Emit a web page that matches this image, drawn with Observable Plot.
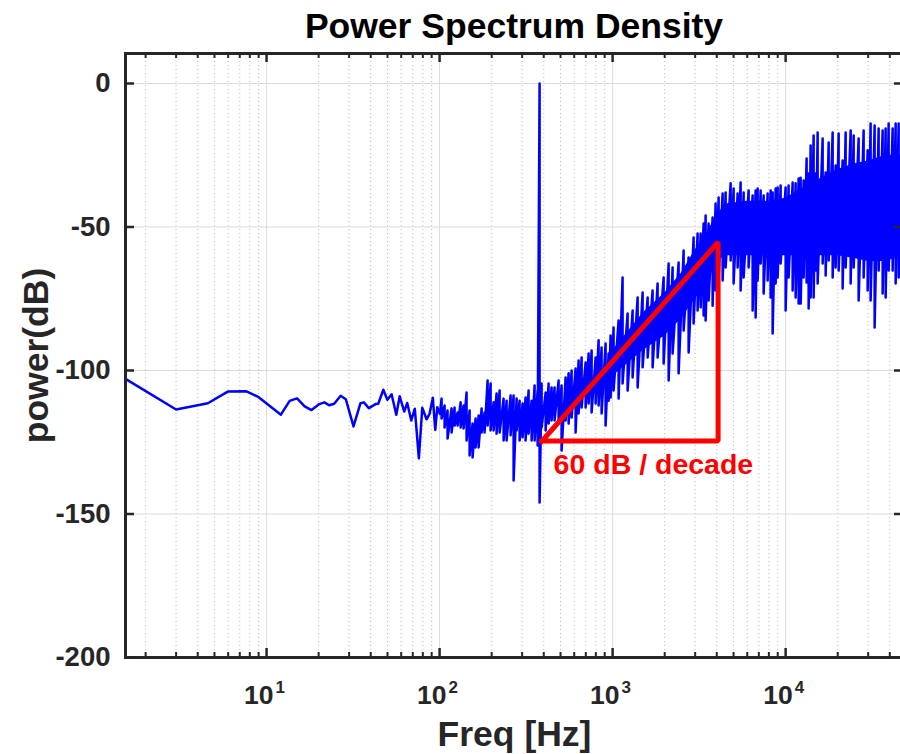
<!DOCTYPE html>
<html><head><meta charset="utf-8">
<script src="https://cdn.jsdelivr.net/npm/d3@7"></script>
<script src="https://cdn.jsdelivr.net/npm/@observablehq/plot@0.6"></script>
<style>
html,body{margin:0;padding:0;background:#fff;overflow:hidden;width:900px;height:754px;}
#wrap{position:relative;width:900px;height:754px;overflow:hidden;}
#title{position:absolute;left:514px;top:6px;transform:translateX(-50%);font:bold 35.5px "Liberation Sans",Arial,sans-serif;color:#000;white-space:nowrap;line-height:40px;}
#chart{position:absolute;left:0;top:45px;width:906px;}
#chart svg{max-width:none !important;}
</style></head><body>
<div id="wrap"><div id="title">Power Spectrum Density</div><div id="chart"></div></div>
<script>
// ---- data ----
const lowFreq = [1.53, 3.0, 4.58, 6.0, 7.6, 9.0, 12.1, 13.6, 15.0, 16.6, 18.2, 20.2, 21.6, 23.0, 24.6, 26.8, 28.7, 31.8, 34.9, 36.5, 39.0, 42.7, 44.2, 47.3, 49.9, 52.8, 56.2, 58.8, 62.5, 65.0, 68.6, 71.9, 75.9, 79.4, 84.1, 87.5, 91.4, 94.4, 97.0, 100.4];
const lowDb = [-102.9, -113.6, -111.4, -107.3, -107.2, -109.3, -115.4, -110.6, -109.7, -112.5, -113.8, -111.7, -111.1, -112.1, -111.6, -108.8, -110.0, -119.5, -111.4, -111.1, -113.1, -111.7, -111.6, -106.7, -110.2, -108.3, -115.4, -109.0, -114.3, -111.3, -117.4, -113.3, -130.6, -113.0, -117.0, -115.1, -109.5, -120.7, -112.8, -115.1];

const denseFreq = [102.7, 106.9, 111.2, 117.3, 122.1, 127.1, 132.3, 137.6, 143.2, 149.1, 155.1, 161.5, 168.1, 175.0, 182.0, 189.5, 197.2, 205.2, 213.5, 222.3, 234.4, 244.0, 257.3, 267.8, 278.7, 290.0, 301.8, 314.1, 326.9, 340.3, 354.1, 368.6, 378.4, 388.7, 410.1, 426.7, 444.1, 462.1, 487.4, 507.2, 535.0, 556.8, 579.4, 611.1, 636.0, 662.0, 698.2, 726.7, 756.3, 797.6, 830.1, 863.8, 911.0, 948.2, 973.6, 1013, 1083, 1142, 1221, 1305, 1395, 1491, 1594, 1703, 1820, 1972, 2108, 2222, 2407, 2573, 2750, 2939, 3099, 3227, 3357, 3448, 3588, 3784, 3939, 4100, 4324, 4500, 4810, 5005, 5279, 5494, 5718, 6111, 6446, 6707, 6889, 7170, 7462, 7870, 8190, 8413, 8755, 8992, 9357, 10000, 10406, 10977, 11424, 11889, 12212, 12706, 13223, 13583, 13950, 14517, 14910, 15311, 16368, 17034, 17733, 18697, 19456, 20252, 21353, 22228, 23760, 24730, 26420, 28240, 29790, 30990, 32690, 34480, 36370, 37850, 39390, 41550, 43240, 45000, 48000];
const denseHi = [-109.8, -112.2, -113.9, -113.2, -112.9, -114.6, -111.1, -112.2, -107.7, -113.9, -118.5, -116.7, -115.7, -113.2, -114.6, -103.5, -104.5, -111.1, -108.0, -107.0, -109.8, -110.5, -108.7, -108.7, -109.8, -110.5, -111.5, -109.4, -107.0, -110.5, -105.2, -107.0, 0, -104.5, -107.7, -104.5, -105.9, -105.9, -103.5, -105.2, -102.4, -101.0, -100.0, -99.3, -96.5, -95.5, -97.2, -94.1, -93.0, -95.5, -89.5, -92.0, -90.6, -94.1, -87.8, -85.0, -82.6, -67.6, -80.1, -79.1, -74.6, -72.8, -74.6, -72.1, -69.7, -67.6, -62.7, -64.1, -62.4, -58.2, -60.6, -53.7, -52.3, -52.3, -48.8, -46.0, -48.8, -46.7, -41.8, -39.7, -38.3, -38.0, -34.8, -36.6, -38.3, -34.5, -38.0, -37.3, -39.0, -37.3, -36.6, -37.3, -39.0, -38.3, -37.3, -38.0, -36.6, -36.2, -35.5, -36.2, -35.5, -34.5, -34.8, -33.1, -32.8, -33.8, -26.1, -31.4, -21.6, -18.1, -31.4, -17.1, -19.2, -31.0, -20.6, -17.1, -28.6, -17.4, -26.8, -17.1, -16.4, -18.1, -19.2, -16.4, -23.3, -13.9, -14.6, -15.7, -16.4, -15.7, -13.9, -15.7, -13.9, -13.9, -15.0];
const denseLo = [-116.7, -119.9, -123.7, -121.6, -119.2, -119.2, -119.9, -120.2, -124.4, -129.6, -130.3, -126.8, -126.8, -121.6, -121.6, -119.2, -120.9, -120.9, -122.0, -121.6, -124.4, -124.4, -122.6, -138.3, -120.9, -124.4, -123.3, -124.4, -122.0, -124.4, -124.4, -126.1, -146.0, -119.9, -120.9, -118.5, -117.4, -117.4, -118.5, -127.9, -117.4, -118.5, -116.4, -121.6, -115.0, -112.9, -112.9, -111.5, -114.6, -111.5, -112.2, -115.0, -119.2, -110.5, -109.4, -107.0, -109.8, -104.5, -107.0, -102.4, -105.9, -98.9, -95.5, -98.9, -95.5, -97.6, -103.5, -94.1, -101.0, -86.1, -93.7, -83.6, -79.1, -78.0, -80.8, -82.6, -75.6, -77.4, -72.1, -67.6, -68.6, -64.1, -61.7, -69.7, -64.1, -72.1, -67.6, -64.1, -79.1, -81.5, -68.6, -62.7, -73.2, -68.6, -74.6, -87.1, -69.7, -67.6, -62.7, -79.1, -67.6, -72.1, -74.6, -76.7, -76.7, -67.6, -69.3, -78.4, -74.6, -74.6, -65.2, -69.7, -62.7, -66.9, -61.7, -67.6, -64.1, -65.2, -71.4, -64.1, -69.7, -64.1, -75.6, -67.6, -72.1, -75.6, -85.0, -65.2, -73.2, -74.6, -65.2, -65.2, -69.7, -67.6, -62.0];

// solid core of the dense band
const coreFreq = [1000, 1500, 2000, 2500, 3000, 3500, 4000, 4500, 6000, 8000, 10000, 13000, 16000, 20000, 25000, 30000, 38000, 48000];
const coreHi = [-93, -80, -73, -66, -58, -52, -46, -42, -41, -41, -40, -36, -33, -30, -28, -27, -25, -25];
const coreLo = [-102, -93, -88, -82, -75, -70, -62, -60, -60, -60, -60, -60, -60, -60, -61, -62, -62, -60];

// red slope annotation
const triFreq = [390, 4070, 4070, 390];
const triDb = [-124.6, -124.6, -55.3, -124.6];
const annoText = ["60 dB / decade"];
const annoFreq = [456];
const annoDb = [-136];

// axes
const yTicks = [0, -50, -100, -150, -200];
const xMajor = [10, 100, 1000, 10000];
const xExp = ["1", "2", "3", "4"];
const xMinor = [2, 3, 4, 5, 6, 7, 8, 9, 20, 30, 40, 50, 60, 70, 80, 90, 200, 300, 400, 500, 600, 700, 800, 900, 2000, 3000, 4000, 5000, 6000, 7000, 8000, 9000, 20000, 30000, 40000];
const xDomain = [1.53, 48000];
const yDomain = [-200, 10.45];

// ---- build ----
const lineData = [
  ...lowFreq.map((f, i) => ({f, db: lowDb[i]})),
  ...denseFreq.flatMap((f, i) => [{f, db: denseHi[i]}, {f, db: denseLo[i]}])
];
const coreData = coreFreq.map((f, i) => ({f, hi: coreHi[i], lo: coreLo[i]}));
const triData = triFreq.map((f, i) => ({f, db: triDb[i]}));

const W = 906, H = 709, ML = 125, MR = 3, MT = 8, MB = 97;
const frameW = W - ML - MR, frameH = H - MT - MB;
const ink = "#262626";
const font = '"Liberation Sans", Arial, Helvetica, sans-serif';

const chart = Plot.plot({
  width: W, height: H,
  marginLeft: ML, marginRight: MR, marginTop: MT, marginBottom: MB,
  style: {fontFamily: font, color: ink, background: "white", overflow: "visible", maxWidth: "none"},
  x: {type: "log", domain: xDomain, axis: null},
  y: {domain: yDomain, axis: null},
  marks: [
    Plot.ruleX(xMinor, {stroke: "#b8b8b8", strokeDasharray: "1,3", strokeWidth: 1}),
    Plot.ruleX(xMajor, {stroke: "#dcdcdc", strokeWidth: 1}),
    Plot.ruleY(yTicks, {stroke: "#dcdcdc", strokeWidth: 1}),
    Plot.areaY(coreData, {x: "f", y1: "lo", y2: "hi", fill: "#0000ff"}),
    Plot.line(lineData, {x: "f", y: "db", stroke: "#0000ff", strokeWidth: 2.5, strokeLinejoin: "round"}),
    Plot.line(triData, {x: "f", y: "db", stroke: "#ff0000", strokeWidth: 5, strokeLinejoin: "miter", strokeLinecap: "square"}),
    Plot.text(annoText, {x: (d, i) => annoFreq[i], y: (d, i) => annoDb[i], text: d => d, textAnchor: "start", lineAnchor: "bottom", fill: "#ff0000", fontSize: 28.5, fontWeight: "bold"}),
    Plot.frame({stroke: ink, strokeWidth: 3}),
    // inward ticks
    Plot.ruleX(xMajor, {insetTop: frameH - 9, stroke: ink, strokeWidth: 2.5}),
    Plot.ruleX(xMajor, {insetBottom: frameH - 9, stroke: ink, strokeWidth: 2.5}),
    Plot.ruleX(xMinor, {insetTop: frameH - 5, stroke: ink, strokeWidth: 2}),
    Plot.ruleX(xMinor, {insetBottom: frameH - 5, stroke: ink, strokeWidth: 2}),
    Plot.ruleY(yTicks, {insetRight: frameW - 9, stroke: ink, strokeWidth: 2.5}),
    Plot.ruleY(yTicks, {insetLeft: frameW - 9, stroke: ink, strokeWidth: 2.5}),
    // y tick labels
    Plot.axisY(yTicks, {anchor: "left", tickSize: 0, tickPadding: 15, fontSize: 27.5, fontWeight: "bold", label: null, tickFormat: d => String(d)}),
    // x tick labels 10^n
    Plot.text(xMajor, {x: d => d, frameAnchor: "bottom", text: () => "10", textAnchor: "end", lineAnchor: "bottom", dx: 7, dy: 46, fontSize: 26.5, fontWeight: "bold", fill: ink}),
    Plot.text(xMajor, {x: d => d, frameAnchor: "bottom", text: (d, i) => xExp[i], textAnchor: "start", lineAnchor: "bottom", dx: 9, dy: 35, fontSize: 17, fontWeight: "bold", fill: ink}),
    // axis titles
    Plot.text(["Freq [Hz]"], {frameAnchor: "bottom", text: d => d, textAnchor: "middle", lineAnchor: "bottom", dy: 88.6, fontSize: 35.5, fontWeight: "bold", fill: ink}),
    Plot.text(["power(dB)"], {frameAnchor: "left", text: d => d, rotate: -90, textAnchor: "middle", lineAnchor: "bottom", dx: -78, fontSize: 35.5, fontWeight: "bold", fill: ink})
  ]
});
document.getElementById("chart").appendChild(chart);
</script>
</body></html>
